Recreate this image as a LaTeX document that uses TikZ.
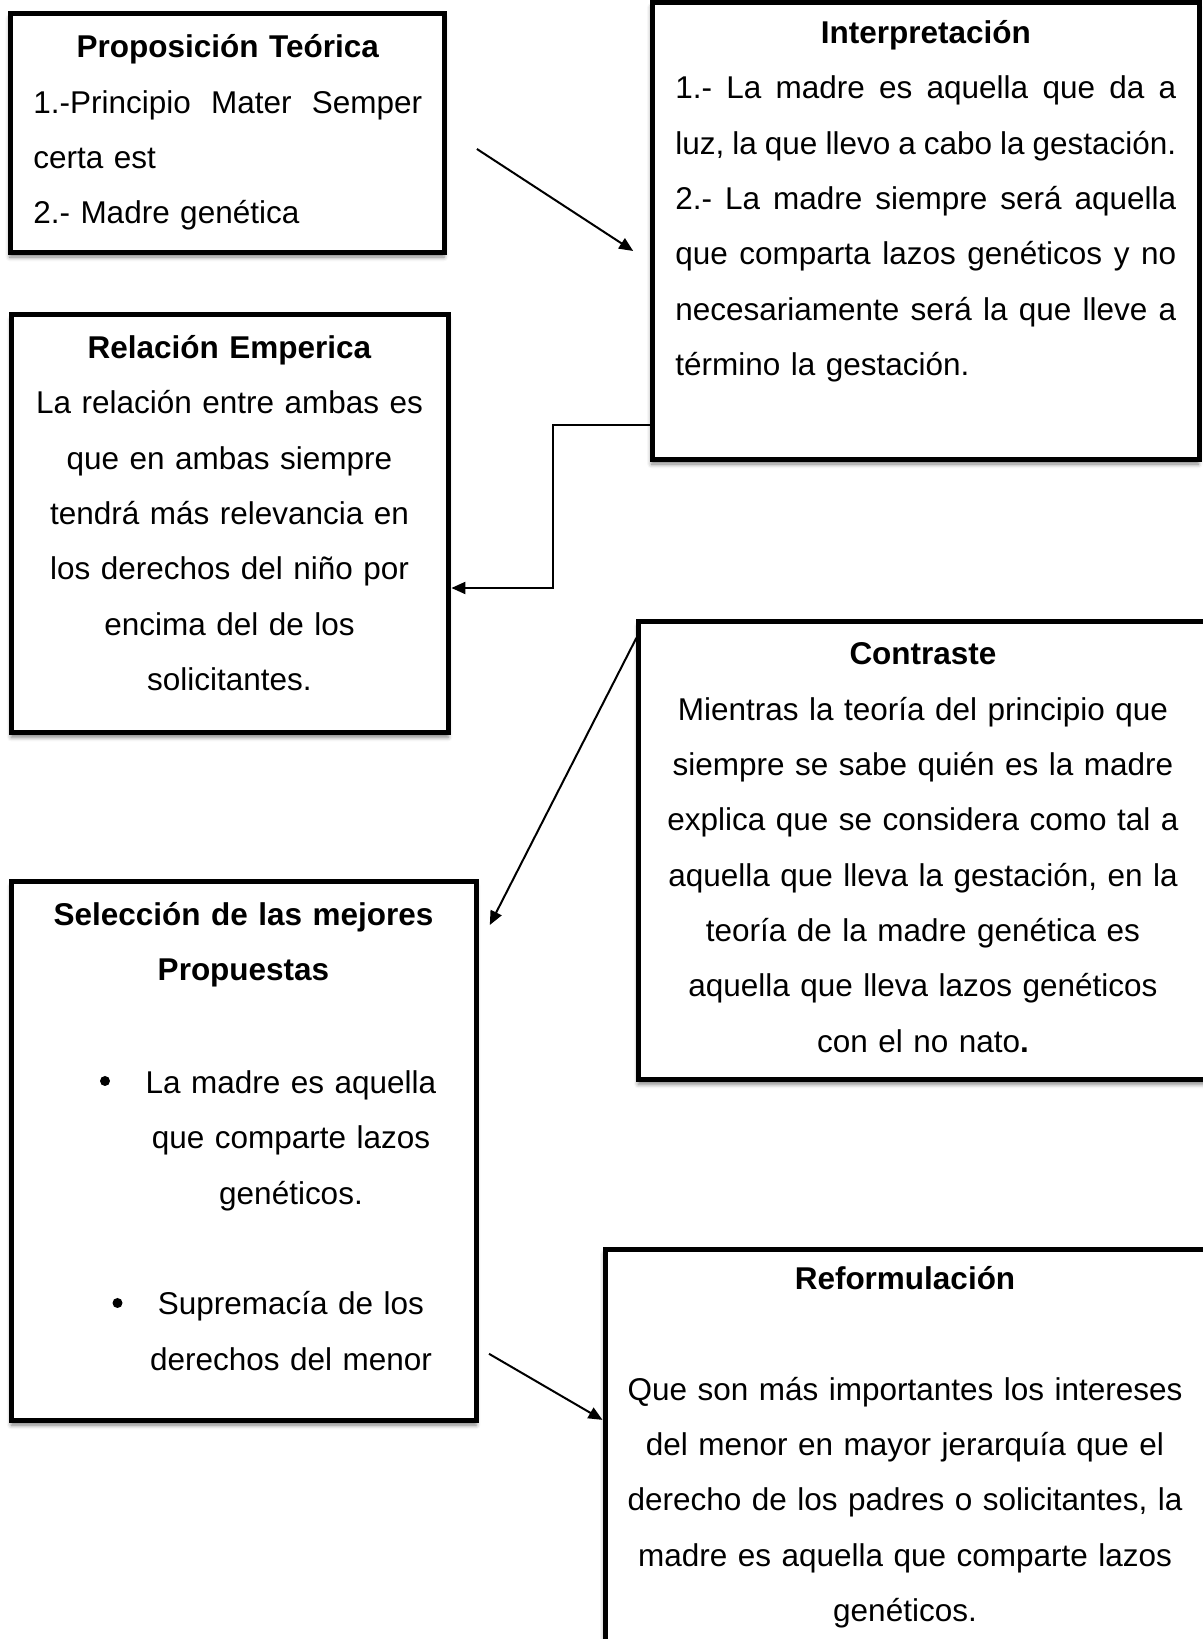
\documentclass[tikz,border=0pt]{standalone}
\usepackage{fontspec}
\setmainfont{Liberation Sans}
\usetikzlibrary{arrows.meta,shadows.blur}

% renglon justificado a todo el ancho
\newcommand{\lineajust}[1]{\makebox[\linewidth][s]{\spaceskip=.28em plus 1em minus .1em\relax #1}}

\begin{document}
\begin{tikzpicture}[
		caja/.style={draw, line width=0.125cm, fill=white, inner sep=0pt,
			blur shadow={shadow xshift=-0.5pt, shadow yshift=-3pt, shadow blur radius=3pt, shadow opacity=50}},
		texto/.style={inner sep=0pt, font=\fontsize{22.4pt}{39.33pt}\selectfont},
		flecha/.style={line width=0.05cm, -{Triangle[length=0.35cm, width=0.3cm]}}
	]
			\useasboundingbox (0, 0) rectangle (30.075, 40.975);
			\clip (0, 0) rectangle (30.075, 40.975);
			
			% cajas
			\node[caja, minimum width=10.86cm, minimum height=5.975cm] (prop) at (5.69, 37.64) {};
			\node[caja, minimum width=13.675cm, minimum height=11.425cm] (interp) at (23.14, 35.19) {};
			\node[caja, minimum width=10.925cm, minimum height=10.45cm] (rel) at (5.76, 27.875) {};
			\node[caja, minimum width=14.275cm, minimum height=11.45cm] (contr) at (23.11, 19.7) {};
			\node[caja, minimum width=11.625cm, minimum height=13.475cm] (selec) at (6.11, 12.19) {};
			\node[caja, minimum width=15.05cm, minimum height=10.75cm] (reform) at (22.65, 4.35) {};
			
			% textos
			\node[texto, text width=9.725cm, align=left, anchor=base west] (propT) at (0.825, 39.525)
				{\makebox[\linewidth]{\bfseries Proposición Teórica}\\
				\lineajust{1.-Principio Mater Semper}\\
				certa est\\
				2.- Madre genética};
			\node[texto, text width=12.525cm, align=left, anchor=base west] (interpT) at (16.875, 39.885)
				{\makebox[\linewidth]{\bfseries Interpretación}\\
				\lineajust{1.- La madre es aquella que da a}\\
				\lineajust{luz, la que llevo a cabo la gestación.}\\
				\lineajust{2.- La madre siempre será aquella}\\
				\lineajust{que comparta lazos genéticos y no}\\
				\lineajust{necesariamente será la que lleve a}\\
				término la gestación.};
			\node[texto, text width=10.5cm, align=center, anchor=base] (relT) at (5.7375, 32.01)
				{\textbf{Relación Emperica}\\ La relación entre ambas es\\ que en ambas siempre\\
				tendrá más relevancia en\\ los derechos del niño por\\ encima del de los\\ solicitantes.};
			\node[texto, text width=13.8cm, align=center, anchor=base] (contrT) at (23.075, 24.35)
				{\textbf{Contraste}\\ Mientras la teoría del principio que\\ siempre se sabe quién es la madre\\
				explica que se considera como tal a\\ aquella que lleva la gestación, en la\\
				teoría de la madre genética es\\ aquella que lleva lazos genéticos\\ con el no nato\textbf{.}};
			\node[texto, text width=11cm, align=center, anchor=base] (selecT) at (6.0875, 17.835)
				{\textbf{Selección de las mejores}\\ \textbf{Propuestas}};
			\node[texto, text width=9cm, align=center, anchor=base] (selecL) at (7.275, 13.635)
				{La madre es aquella\\ que comparte lazos\\ genéticos.\\[39.33pt]
				Supremacía de los\\ derechos del menor};
			\node[texto, text width=14.8cm, align=center, anchor=base] (reformT) at (22.625, 8.73)
				{\textbf{Reformulación}\\[39.33pt] Que son más importantes los intereses\\
				del menor en mayor jerarquía que el\\ derecho de los padres o solicitantes, la\\
				madre es aquella que comparte lazos\\ genéticos.};
			
			% vinetas
			\fill (2.625, 13.95) circle (0.125);
			\fill (2.9375, 8.4) circle (0.125);
			
			% flechas
			\draw[flecha] ([xshift=0.74cm, yshift=-0.39cm]prop.east) -- ([xshift=-0.41cm, yshift=-0.49cm]interp.west);
			\draw[flecha] ([yshift=0.94cm]interp.south west) -| ([xshift=2.54cm, yshift=-1.6cm]rel.east) -- ([yshift=-1.6cm]rel.east);
			\draw[flecha] ([yshift=-0.46cm]contr.north west) -- ([xshift=0.26cm, yshift=-1.14cm]selec.north east);
			\draw[flecha] ([xshift=0.24cm, yshift=1.74cm]selec.south east) -- ([yshift=-4.31cm]reform.north west);
		\end{tikzpicture}
\end{document}
